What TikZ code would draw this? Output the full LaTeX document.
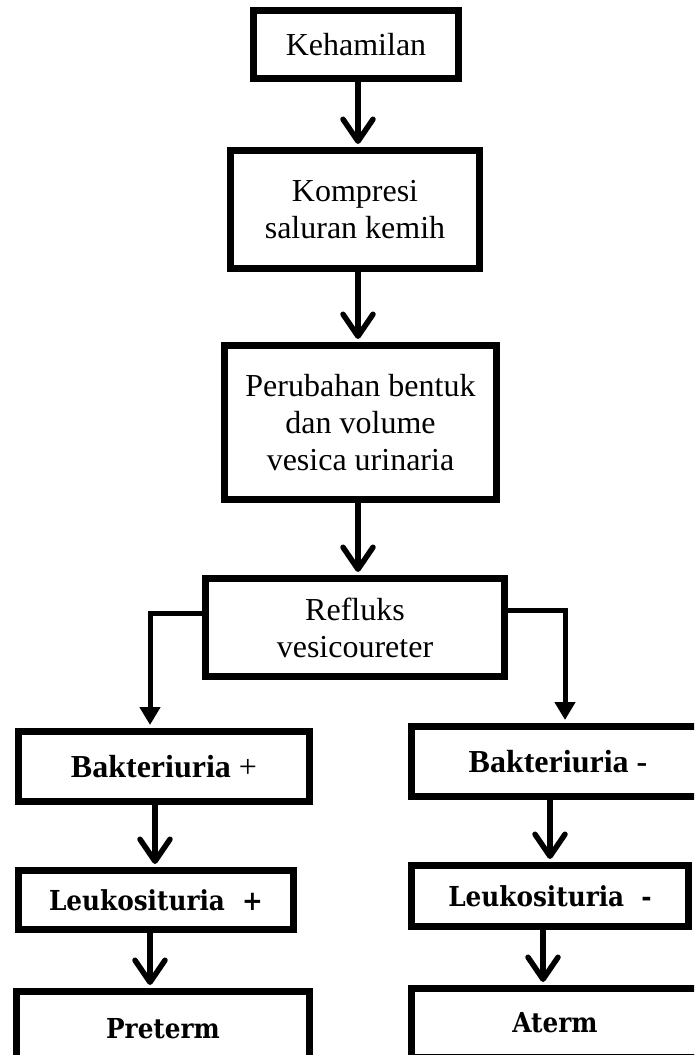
\documentclass[tikz,border=0pt]{standalone}
\usepackage{fontspec}
\setmainfont{Liberation Serif}
\newfontfamily\cambriafont{DejaVu Serif Condensed}
\usetikzlibrary{arrows.meta,calc}
\begin{document}
\begin{tikzpicture}[x=1pt,y=-1pt,
  box/.style={draw,line width=7pt,inner sep=0pt,align=center,font=\fontsize{32}{37}\selectfont},
  bbox/.style={box,font=\fontsize{32}{37}\selectfont\bfseries},
  cbox/.style={box,font=\fontsize{27.5}{32}\selectfont\cambriafont\bfseries},
  flow/.style={line width=5.5pt,-{Straight Barb[length=22pt,width=30pt,round]},shorten >=3pt},
  branch/.style={line width=5pt,-{Triangle[length=18pt,width=20pt]},shorten >=3pt}]
\useasboundingbox (0,0) rectangle (694,1055);
\clip (0,0) rectangle (694,1055);
\fill[white] (0,0) rectangle (694,1055);
\node[box,minimum width=205pt,minimum height=68pt] (keh) at (356,44.5) {Kehamilan};
\node[box,minimum width=249pt,minimum height=118pt] (komp) at (355,209.5) {Kompresi\\saluran kemih};
\node[box,minimum width=272pt,minimum height=154pt] (per) at (360.5,422.5) {Perubahan bentuk\\dan volume\\vesica urinaria};
\node[box,minimum width=299pt,minimum height=98pt] (ref) at (355,627.5) {Refluks\\vesicoureter};
\node[bbox,minimum width=291pt,minimum height=70pt] (bp) at (164,766.5) {Bakteriuria \mdseries+};
\node[bbox,minimum width=293pt,minimum height=70pt] (bm) at (558,761.5) {Bakteriuria -};
\node[cbox,minimum width=275pt,minimum height=59pt] (lp) at (156,900) {Leukosituria~~+};
\node[cbox,minimum width=277pt,minimum height=61pt] (lm) at (550,896) {Leukosituria~~-};
\node[cbox,minimum width=293pt,minimum height=75pt] (pre) at (163,1029) {Preterm};
\node[cbox,minimum width=287pt,minimum height=69pt] (at) at (555,1023) {Aterm};
\draw[flow] ([xshift=2pt]keh.south) -- ([xshift=2pt]keh.south |- komp.north);
\draw[flow] ([xshift=3pt]komp.south) -- ([xshift=3pt]komp.south |- per.north);
\draw[flow] ([xshift=3pt]ref.north |- per.south) -- ([xshift=3pt]ref.north);
\draw[branch] ([yshift=14.5pt]ref.west) -| ([xshift=-14pt]bp.north);
\draw[branch] ([yshift=17.5pt]ref.east) -| ([xshift=7pt]bm.north);
\draw[flow] ([xshift=-9pt]bp.south) -- ([xshift=-9pt]bp.south |- lp.north);
\draw[flow] ([xshift=-6pt]lp.south) -- ([xshift=-6pt]lp.south |- pre.north);
\draw[flow] ([xshift=-8pt]bm.south) -- ([xshift=-8pt]bm.south |- lm.north);
\draw[flow] ([xshift=-7pt]lm.south) -- ([xshift=-7pt]lm.south |- at.north);
\end{tikzpicture}
\end{document}
